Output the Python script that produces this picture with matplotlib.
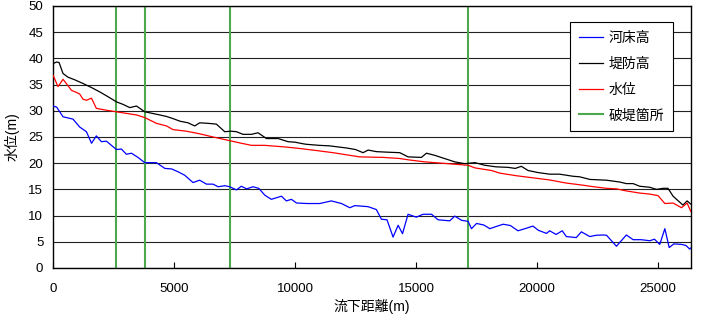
import matplotlib
matplotlib.use('Agg')
import matplotlib.pyplot as plt

plt.rcParams['font.family'] = ['Liberation Sans', 'Noto Sans CJK JP']

# 河床高 (river bed)
bed_x = [0, 150, 413, 826, 1100, 1380, 1590, 1790, 2000, 2205, 2620, 2825, 3030, 3240,
         3510, 3790, 4270, 4620, 4900, 5170, 5440, 5785, 6060, 6340, 6610, 6820, 7100,
         7300, 7580, 7780, 8000, 8260, 8500, 8750, 9020, 9300, 9440, 9640, 9850, 10060,
         10500, 11020, 11500, 11920, 12260, 12470, 13020, 13360, 13570, 13800, 14050,
         14260, 14440, 14670, 15010, 15290, 15640, 15910, 16390, 16600, 16880, 17150,
         17290, 17500, 17800, 18050, 18300, 18600, 18900, 19210, 19500, 19830, 20050,
         20390, 20520, 20790, 21040, 21210, 21620, 21830, 22180, 22450, 22730, 22870,
         23280, 23690, 23970, 24300, 24660, 24850, 25070, 25280, 25460, 25650, 25970,
         26150, 26310, 26350]
bed_y = [30.9, 30.7, 28.85, 28.4, 26.9, 26.0, 23.8, 25.2, 24.1, 24.2, 22.6, 22.7, 21.7, 21.9,
         21.1, 20.1, 20.1, 19.0, 18.9, 18.35, 17.7, 16.3, 16.75, 16.0, 16.0, 15.5, 15.7,
         15.5, 14.9, 15.6, 15.1, 15.5, 15.2, 13.9, 13.1, 13.5, 13.7, 12.8, 13.1, 12.4,
         12.3, 12.3, 12.8, 12.3, 11.5, 11.9, 11.7, 11.15, 9.3, 9.2, 5.9,
         8.15, 6.55, 10.25, 9.7, 10.25, 10.25, 9.2, 9.0, 9.9, 9.1, 8.9,
         7.5, 8.5, 8.2, 7.5, 7.9, 8.35, 8.1, 7.1, 7.5, 8.0, 7.2,
         6.6, 7.1, 6.4, 7.1, 6.0, 5.8, 6.9, 6.0, 6.25, 6.3, 6.25,
         4.15, 6.3, 5.4, 5.4, 5.2, 5.5, 4.5, 7.5, 3.9, 4.6, 4.5,
         4.3, 3.6, 3.8]

# 堤防高 (levee crown)
levee_x = [0, 150, 250, 413, 620, 900, 1240, 1600, 1930, 2300, 2620, 2900, 3170, 3450,
           3790, 4100, 4410, 4700, 4960, 5250, 5580, 5855, 6060, 6400, 6750, 7095, 7350,
           7580, 7850, 8200, 8470, 8820, 9300, 9710, 10000, 10330, 10470, 11000, 11430,
           12120, 12500, 12810, 13020, 13360, 13800, 14330, 14670, 15220, 15430, 15770,
           16100, 16600, 17010, 17430, 17840, 18300, 18800, 19100, 19350, 19630, 20050,
           20520, 20930, 21490, 21760, 22180, 22870, 23420, 23690, 23970, 24240, 24660,
           24930, 25210, 25410, 25620, 26030, 26200, 26350]
levee_y = [39.0, 39.3, 39.2, 37.1, 36.4, 35.9, 35.2, 34.4, 33.6, 32.6, 31.7, 31.2, 30.6, 30.9,
           29.8, 29.5, 29.2, 28.9, 28.5, 28.0, 27.7, 27.1, 27.7, 27.6, 27.45, 26.0, 26.1,
           26.0, 25.5, 25.5, 25.8, 24.7, 24.7, 24.1, 24.0, 23.7, 23.6, 23.4, 23.3,
           22.9, 22.6, 22.0, 22.5, 22.2, 22.1, 22.0, 21.2, 21.1, 21.9, 21.5,
           21.0, 20.25, 19.9, 20.1, 19.6, 19.3, 19.2, 19.0, 19.4, 18.6, 18.2,
           17.9, 17.9, 17.5, 17.4, 16.9, 16.75, 16.4, 16.1, 16.1, 15.6, 15.4,
           15.0, 15.2, 15.2, 13.7, 12.0, 12.8, 12.2]

# 水位 (water level)
water_x = [0, 207, 413, 550, 760, 965, 1100, 1240, 1380, 1590, 1790, 2205, 2480, 3030,
           3450, 3790, 4270, 4690, 4960, 5510, 6060, 6610, 7095, 7780, 8200, 8740, 9570,
           10190, 10900, 11570, 12670, 13640, 14300, 14740, 15360, 16190, 17150, 17430,
           18120, 18460, 19150, 19830, 20520, 21210, 21900, 22180, 22870, 23280, 23690,
           24240, 24660, 25000, 25280, 25620, 25970, 26200, 26350]
water_y = [36.8, 34.6, 36.0, 35.2, 33.9, 33.5, 33.2, 32.2, 32.0, 32.4, 30.45, 30.1, 29.9, 29.5,
           29.2, 28.7, 27.6, 27.1, 26.4, 26.1, 25.6, 25.0, 24.5, 23.8, 23.4, 23.4, 23.1,
           22.8, 22.4, 22.0, 21.2, 21.1, 20.9, 20.6, 20.25, 19.95, 19.6, 19.1,
           18.6, 18.1, 17.6, 17.2, 16.8, 16.2, 15.8, 15.6, 15.2, 15.1, 14.7,
           14.3, 14.1, 13.8, 12.3, 12.4, 11.5, 12.4, 10.8]

# 破堤箇所 (breach locations)
breach_x = [2590, 3790, 7300, 17150]

fig = plt.figure(figsize=(7.07, 3.2), dpi=100)
ax = fig.add_axes([0.075, 0.1625, 0.902, 0.819])

ax.plot(bed_x, bed_y, color='#0000ff', lw=0.9, label='河床高', zorder=3)
ax.plot(levee_x, levee_y, color='black', lw=0.9, label='堤防高', zorder=3)
ax.plot(water_x, water_y, color='#ff0000', lw=0.9, label='水位', zorder=3)
for i, bx in enumerate(breach_x):
    ax.axvline(bx, color='#4ea84e', lw=1.5, label='破堤箇所' if i == 0 else None, zorder=2)

ax.set_xlim(0, 26350)
ax.set_ylim(0, 50)
ax.set_xticks(range(0, 26000, 5000))
ax.set_yticks(range(0, 51, 5))
ax.yaxis.grid(True, color='#222222', lw=0.8)
ax.set_axisbelow(True)
ax.tick_params(axis='x', direction='in', length=4, labelsize=9.5, pad=11)
ax.tick_params(axis='y', direction='in', length=0, labelsize=9.5, pad=7)
for s in ax.spines.values():
    s.set_linewidth(1.0)
    s.set_color('black')

ax.set_xlabel('流下距離(m)', fontsize=10, labelpad=3)
ax.set_ylabel('水位(m)', fontsize=10, labelpad=6)

leg = ax.legend(loc='upper right', bbox_to_anchor=(0.972, 0.939), fontsize=10,
                frameon=True, fancybox=False, framealpha=1, edgecolor='black',
                handlelength=1.7, labelspacing=0.85, borderpad=0.65, handletextpad=0.4,
                borderaxespad=0)
leg.get_frame().set_linewidth(0.8)

fig.savefig('out.png', dpi=100)
